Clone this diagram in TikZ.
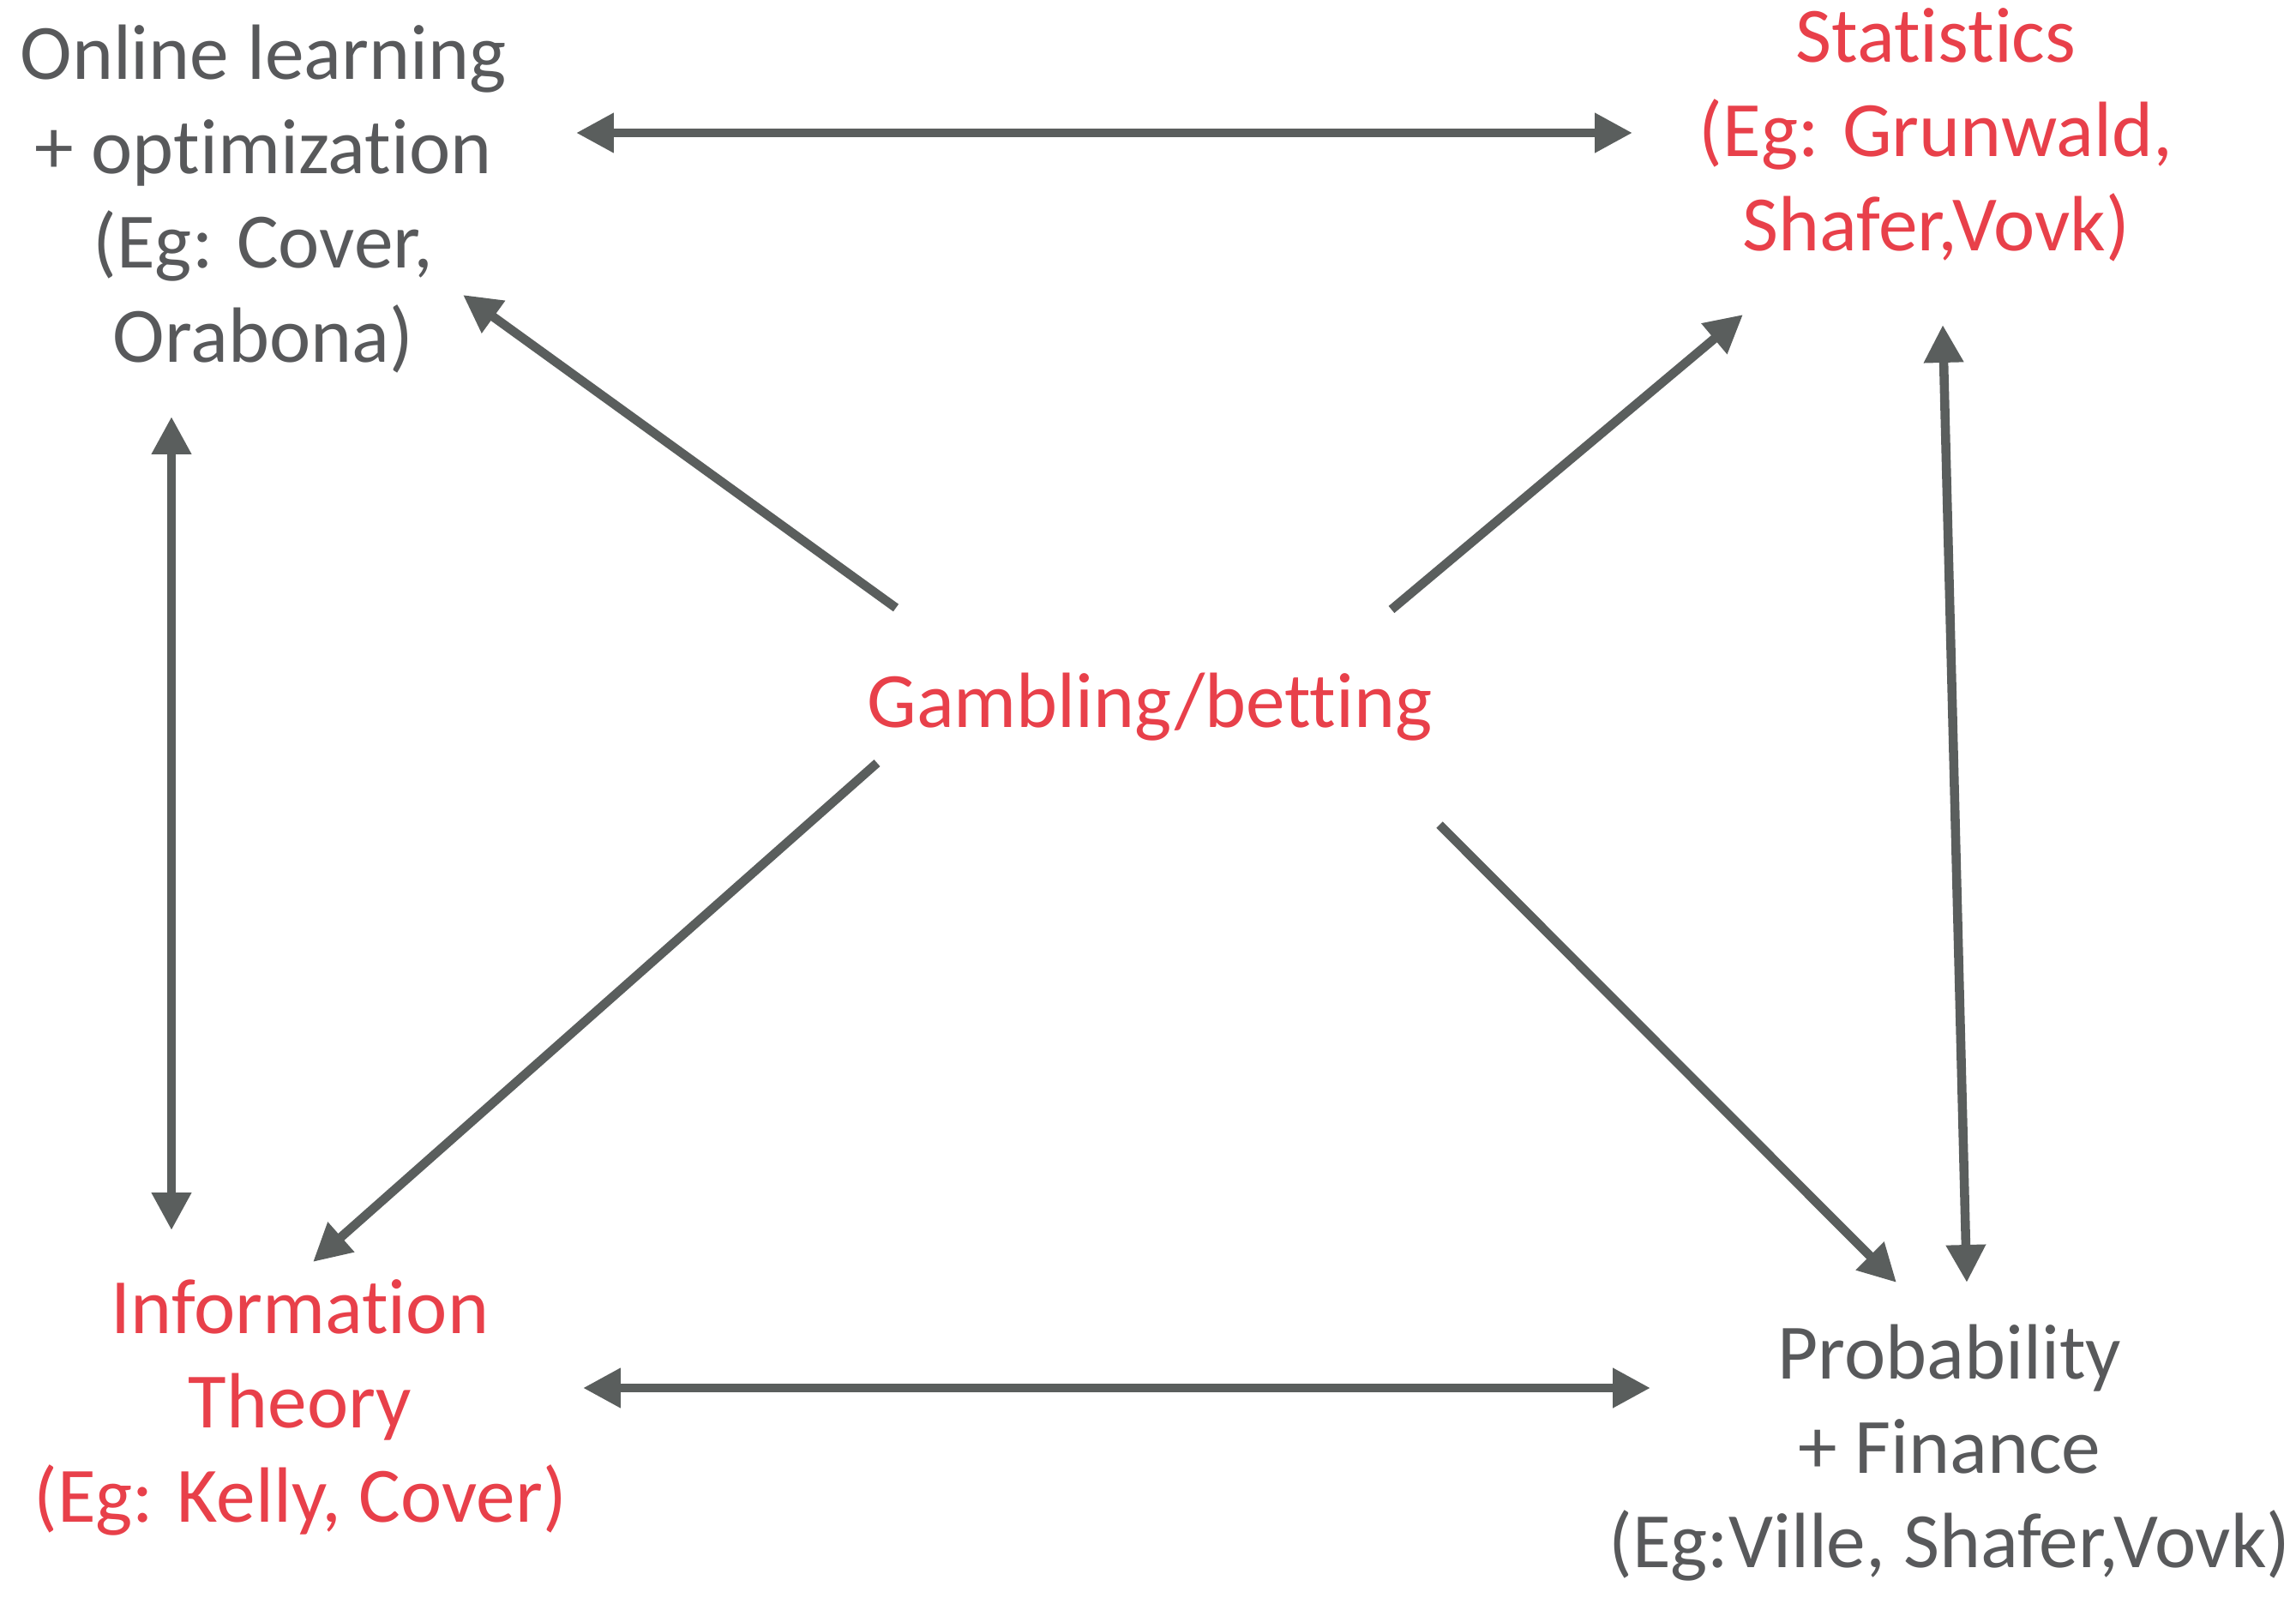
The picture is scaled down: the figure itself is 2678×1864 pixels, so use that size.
\documentclass[tikz,border=0pt]{standalone}
\usepackage{fontspec}
\setmainfont{Carlito}[Ligatures=NoCommon]
\usepackage{xcolor}
\usetikzlibrary{arrows.meta,positioning}
\definecolor{txt}{HTML}{58595B}
\definecolor{hot}{HTML}{E8404A}
\definecolor{arr}{HTML}{5A5E5D}

\begin{document}
\begin{tikzpicture}[x=0.01cm,y=-0.01cm,
  field/.style={align=center,inner sep=0pt,font=\fontsize{26pt}{31.3pt}\selectfont},
  link/.style={draw=arr,line width=3pt,-{Triangle[length=12.5pt,width=12.5pt]}},
  both/.style={link,{Triangle[length=12.5pt,width=12.5pt]}-{Triangle[length=12.5pt,width=12.5pt]}}]
\useasboundingbox (0,0) rectangle (2678,1864);

\node[field,text=txt] (online) at (307,232) {Online learning\\+ optimization\\(Eg: Cover,\\Orabona)};
\node[field,text=hot] (stats) at (2258,157) {Statistics\\(Eg: Grunwald,\\Shafer,Vovk)};
\node[field,text=hot] (gamble) at (1341,825) {Gambling/betting};
\node[field,text=hot] (info) at (350,1642) {Information\\Theory\\(Eg: Kelly, Cover)};
\node[field,text=txt] (prob) at (2274,1695) {Probability\\+ Finance\\(Eg:Ville, Shafer,Vovk)};

% from the centre outwards
\draw[link] ([shift={(-296,-116)}]gamble.center) -- ([shift={(233,112)}]online.center);
\draw[link] ([shift={(282,-114)}]gamble.center) -- ([shift={(-225,210)}]stats.center);
\draw[link] ([shift={(-318,65)}]gamble.center) -- ([shift={(15,-170)}]info.center);
\draw[link] ([shift={(338,137)}]gamble.center) -- ([shift={(-62,-199)}]prob.center);

% round the outside
\draw[both] ([shift={(365,-77)}]online.center) -- ([shift={(-354,-2)}]stats.center);
\draw[both] ([shift={(330,-23)}]info.center) -- ([shift={(-349,-76)}]prob.center);
\draw[both] ([shift={(-107,254)}]online.center) -- ([shift={(-150,-207)}]info.center);
\draw[both] ([shift={(8,222)}]stats.center) -- ([shift={(20,-199)}]prob.center);
\end{tikzpicture}
\end{document}
